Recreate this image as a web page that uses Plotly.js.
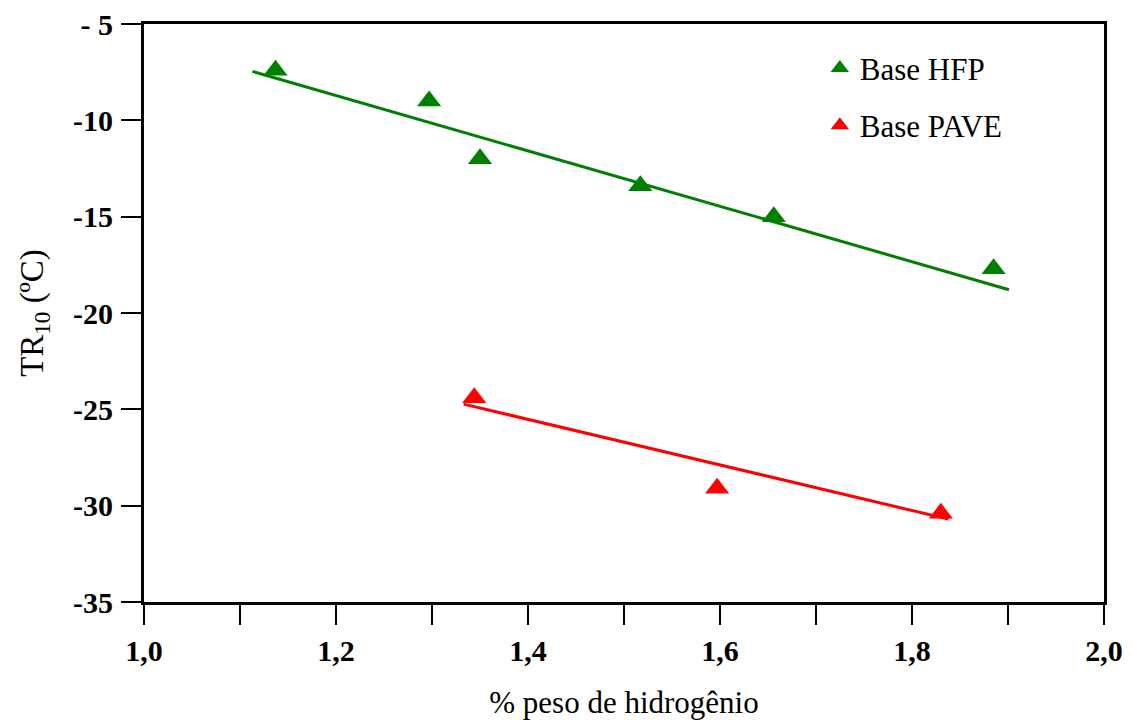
<!DOCTYPE html>
<html>
<head>
<meta charset="utf-8">
<script src="https://cdn.plot.ly/plotly-3.0.1.min.js"></script>
<style>html,body{margin:0;padding:0;background:#fff}#chart{width:1133px;height:720px}</style>
</head>
<body>
<div id="chart"></div>
<script>
// Data
const hfpX = [1.137, 1.297, 1.350, 1.517, 1.656, 1.885];
const hfpY = [-7.4, -9.0, -12.0, -13.4, -15.0, -17.7];
const paveX = [1.344, 1.597, 1.830];
const paveY = [-24.4, -29.1, -30.4];
// Linear fit lines (end points)
const hfpFitX = [1.113, 1.901];
const hfpFitY = [-7.46, -18.79];
const paveFitX = [1.333, 1.838];
const paveFitY = [-24.73, -30.7];
// Ticks
const xTickVals = [1.0, 1.2, 1.4, 1.6, 1.8, 2.0];
const xTickText = ["1,0", "1,2", "1,4", "1,6", "1,8", "2,0"];
const yTickVals = [-5, -10, -15, -20, -25, -30, -35];
const yTickText = ["- 5", "-10", "-15", "-20", "-25", "-30", "-35"];

const serif = "'Liberation Serif', 'Times New Roman', Times, serif";
const green = "#008000", red = "#ff0000";
const traces = [
  {x: hfpFitX, y: hfpFitY, mode: "lines", line: {color: green, width: 3}, showlegend: false, hoverinfo: "skip"},
  {x: paveFitX, y: paveFitY, mode: "lines", line: {color: red, width: 3}, showlegend: false, hoverinfo: "skip"},
  {x: hfpX, y: hfpY, mode: "markers", name: "Base HFP", legendgroup: "a",
   marker: {symbol: "triangle-up", size: 21, color: green}},
  {x: paveX, y: paveY, mode: "markers", name: "Base PAVE", legendgroup: "b",
   marker: {symbol: "triangle-up", size: 21, color: red}}
];
const tickFont = {family: serif, size: 30, color: "#000", weight: "bold"};
const layout = {
  width: 1133, height: 720,
  margin: {l: 144, r: 29, t: 24, b: 118},
  paper_bgcolor: "#fff", plot_bgcolor: "#fff",
  font: {family: serif, color: "#000"},
  showlegend: true,
  legend: {x: 0.704, y: 0.97, xanchor: "left", yanchor: "top", traceorder: "grouped", tracegroupgap: 14,
           font: {family: serif, size: 31, color: "#000"}, bgcolor: "rgba(0,0,0,0)"},
  xaxis: {range: [1.0, 2.0], tickmode: "array", tickvals: xTickVals, ticktext: xTickText,
          ticks: "outside", ticklen: 20, tickwidth: 2, tickcolor: "#000",
          minor: {dtick: 0.1, tick0: 1.0, ticks: "outside", ticklen: 20, tickwidth: 2, tickcolor: "#000", showgrid: false},
          showline: true, linewidth: 3, linecolor: "#000", mirror: true,
          showgrid: false, zeroline: false, tickfont: tickFont,
          title: {text: "% peso de hidrogênio", font: {family: serif, size: 31, color: "#000"}, standoff: 30}},
  yaxis: {range: [-35, -5], tickmode: "array", tickvals: yTickVals, ticktext: yTickText,
          ticks: "outside", ticklen: 20, tickwidth: 2, tickcolor: "#000",
          showline: true, linewidth: 3, linecolor: "#000", mirror: true,
          showgrid: false, zeroline: false, tickfont: tickFont, ticklabelstandoff: 2,
          title: {text: "TR<sub>10</sub> (ºC)", font: {family: serif, size: 33, color: "#000"}, standoff: 20}}
};
Plotly.newPlot("chart", traces, layout, {staticPlot: true, displayModeBar: false});
</script>
</body>
</html>
